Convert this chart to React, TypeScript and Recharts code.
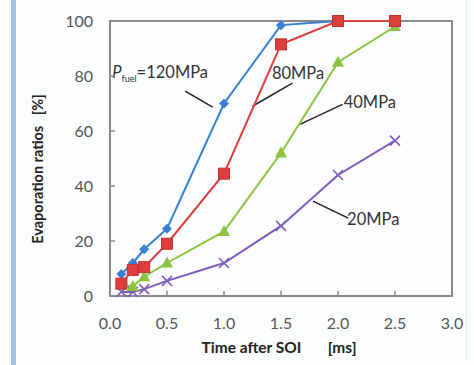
import React from "react";
import {
  LineChart,
  Line,
  XAxis,
  YAxis,
  ReferenceArea,
  ReferenceLine,
  ReferenceDot,
} from "recharts";

// times after SOI [ms]
const times = [0.1, 0.2, 0.3, 0.5, 1.0, 1.5, 2.0, 2.5];
// evaporation ratios [%] per fuel pressure
const p120 = [8, 12, 17, 24.5, 70, 98.5, 100, 100];
const p80 = [4.5, 9.5, 10.5, 19, 44.5, 91.5, 100, 100];
const p40 = [4, 3.5, 7, 12, 23.5, 52, 85, 98];
const p20 = [1.5, 1.5, 2.5, 5.5, 12, 25.5, 44, 56.5];

const xTicks = [0, 0.5, 1, 1.5, 2, 2.5, 3];
const yTicks = [0, 20, 40, 60, 80, 100];

// leader lines from the labels to the curves
const leaders = [
  { name: "120", from: [0.66, 74.5], to: [0.9, 68.7] },
  { name: "80", from: [1.6, 77.4], to: [1.25, 69] },
  { name: "40", from: [2.04, 69.7], to: [1.67, 62.5] },
  { name: "20", from: [1.78, 34.5], to: [2.09, 28.3] },
];
const labels = [
  { text: "120MPa", x: 0.02, y: 81.4 },
  { text: "80MPa", x: 1.42, y: 81 },
  { text: "40MPa", x: 2.05, y: 70.5 },
  { text: "20MPa", x: 2.08, y: 28 },
];

const data = times.map((t, i) => ({
  t,
  p120: p120[i],
  p80: p80[i],
  p40: p40[i],
  p20: p20[i],
}));

const FONT = "Lato, 'Open Sans', sans-serif";
const PLOT_LEFT = 110;
const PLOT_BOTTOM = 296;

const BLUE = "#3b7fd2";
const RED = "#dd3f3c";
const GREEN = "#8cc440";
const PURPLE = "#7d5cbc";

function YTick(props: any) {
  const y = props.y;
  return (
    <g>
      <line x1={PLOT_LEFT} y1={y} x2={PLOT_LEFT + 5} y2={y} stroke="#888" strokeWidth={1.5} />
      <text x={93} y={y + 5.5} textAnchor="end" fontSize={16} fill="#555" fontFamily={FONT}>
        {props.payload.value}
      </text>
    </g>
  );
}

function XTick(props: any) {
  const x = props.x;
  return (
    <g>
      {props.payload.value > 0 && props.payload.value < 3 ? (
        <line x1={x} y1={PLOT_BOTTOM} x2={x} y2={PLOT_BOTTOM - 5} stroke="#888" strokeWidth={1.5} />
      ) : null}
      <text x={x} y={329} textAnchor="middle" fontSize={16} fill="#555" fontFamily={FONT}>
        {props.payload.value.toFixed(1)}
      </text>
    </g>
  );
}

function Diamond(props: any) {
  const { cx, cy } = props;
  const r = 5;
  return <path d={`M${cx},${cy - r}L${cx + r},${cy}L${cx},${cy + r}L${cx - r},${cy}Z`} fill={BLUE} />;
}

function Square(props: any) {
  const { cx, cy } = props;
  return <rect x={cx - 5.5} y={cy - 5.5} width={11} height={11} fill={RED} stroke="#c0302e" />;
}

function Triangle(props: any) {
  const { cx, cy } = props;
  return <path d={`M${cx},${cy - 6.5}L${cx + 6},${cy + 4.5}L${cx - 6},${cy + 4.5}Z`} fill={GREEN} />;
}

function Cross(props: any) {
  const { cx, cy } = props;
  const r = 5;
  return (
    <path
      d={`M${cx - r},${cy - r}L${cx + r},${cy + r}M${cx - r},${cy + r}L${cx + r},${cy - r}`}
      stroke={PURPLE}
      strokeWidth={1.5}
    />
  );
}

function AnnText(text: string) {
  return (props: any) => {
    const vb = props.viewBox || {};
    const x = vb.cx !== undefined ? vb.cx : vb.x;
    const y = vb.cy !== undefined ? vb.cy : vb.y;
    if (text === "120MPa") {
      return (
        <text x={x} y={y + 6} fontSize={16.5} fill="#333" fontFamily={FONT}>
          <tspan fontStyle="italic">P</tspan>
          <tspan fontSize={9} dy={4}>fuel</tspan>
          <tspan dy={-4}>=120MPa</tspan>
        </text>
      );
    }
    return (
      <text x={x} y={y + 6} fontSize={16.5} fill="#333" fontFamily={FONT}>
        {text}
      </text>
    );
  };
}

export default function App() {
  return (
    <div
      style={{
        position: "absolute",
        left: 0,
        top: 0,
        width: 474,
        height: 365,
        background: "#fbfdff",
        overflow: "hidden",
      }}
    >
      <div style={{ position: "absolute", left: 11, top: 0, width: 5, height: 365, background: "#9fc5e8" }} />
      <div style={{ position: "absolute", left: 466, top: 0, width: 1, height: 362, background: "#e3eef8" }} />
      <LineChart
        width={474}
        height={365}
        data={data}
        margin={{ top: 21, right: 22, bottom: 0, left: 0 }}
        style={{ position: "absolute", left: 0, top: 0 }}
      >
        <XAxis
          dataKey="t"
          type="number"
          domain={[0, 3]}
          ticks={xTicks}
          height={69}
          axisLine={false}
          tickLine={false}
          tick={<XTick />}
          interval={0}
          label={{
            content: () => (
              <text x={279} y={353} textAnchor="middle" fontSize={15.5} fontWeight="bold" fill="#222" fontFamily={FONT}>
                Time after SOI{"\u00a0\u00a0\u00a0\u00a0\u00a0\u00a0\u00a0"}[ms]
              </text>
            ),
          }}
        />
        <YAxis
          type="number"
          domain={[0, 100]}
          ticks={yTicks}
          width={110}
          axisLine={false}
          tickLine={false}
          tick={<YTick />}
          interval={0}
          label={{
            content: () => (
              <text
                x={43}
                y={169}
                textAnchor="middle"
                fontSize={14.5}
                fontWeight="bold"
                fill="#222"
                fontFamily={FONT}
                transform="rotate(-90 43 169)"
              >
                Evaporation ratios{"\u00a0\u00a0\u00a0"}[%]
              </text>
            ),
          }}
        />
        <ReferenceArea x1={0} x2={3} y1={0} y2={100} fill="none" stroke="#8a8a8a" strokeWidth={2} ifOverflow="visible" />
        {leaders.map((l) => (
          <ReferenceLine
            key={l.name}
            segment={[
              { x: l.from[0], y: l.from[1] },
              { x: l.to[0], y: l.to[1] },
            ]}
            stroke="#222"
            strokeWidth={1.5}
            ifOverflow="visible"
          />
        ))}
        <Line dataKey="p20" stroke={PURPLE} strokeWidth={2} dot={<Cross />} isAnimationActive={false} />
        <Line dataKey="p40" stroke={GREEN} strokeWidth={2} dot={<Triangle />} isAnimationActive={false} />
        <Line dataKey="p120" stroke={BLUE} strokeWidth={2} dot={<Diamond />} isAnimationActive={false} />
        <Line dataKey="p80" stroke={RED} strokeWidth={2} dot={<Square />} isAnimationActive={false} />
        {labels.map((l) => (
          <ReferenceDot
            key={l.text}
            x={l.x}
            y={l.y}
            r={0}
            stroke="none"
            fill="none"
            ifOverflow="visible"
            label={{ content: AnnText(l.text) }}
          />
        ))}
      </LineChart>
    </div>
  );
}
